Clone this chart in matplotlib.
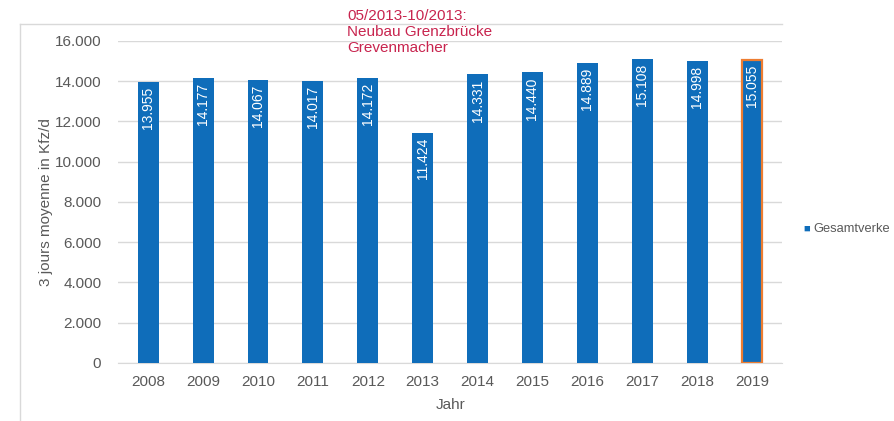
import matplotlib.pyplot as plt
from matplotlib.lines import Line2D

plt.rcParams['font.family'] = ['Liberation Sans', 'DejaVu Sans']

years = ['2008', '2009', '2010', '2011', '2012', '2013',
         '2014', '2015', '2016', '2017', '2018', '2019']
values = [13955, 14177, 14067, 14017, 14172, 11424,
          14331, 14440, 14889, 15108, 14998, 15055]
labels = ['13.955', '14.177', '14.067', '14.017', '14.172', '11.424',
          '14.331', '14.440', '14.889', '15.108', '14.998', '15.055']
yticks = [0, 2000, 4000, 6000, 8000, 10000, 12000, 14000, 16000]
ytick_labels = ['0', '2.000', '4.000', '6.000', '8.000', '10.000',
                '12.000', '14.000', '16.000']

blue = '#0F6DBA'
grey = '#595959'

fig = plt.figure(figsize=(8.94, 4.21), dpi=100)
ax = fig.add_axes([0.132, 0.138, 0.743, 0.765])

x = list(range(len(years)))
bars = ax.bar(x, values, width=0.38, color=blue, zorder=3)
bars[-1].set_edgecolor('#ED7D31')
bars[-1].set_linewidth(1.6)

for xi, v, lab in zip(x, values, labels):
    ax.text(xi, v - 250, lab, rotation=90, ha='center', va='top',
            color='white', fontsize=10, zorder=4)

ax.set_xlim(-0.55, 11.55)
ax.set_ylim(0, 16000)
ax.set_yticks(yticks)
ax.set_yticklabels(ytick_labels)
ax.set_xticks(x)
ax.set_xticklabels(years)
ax.tick_params(axis='y', length=0, colors=grey, labelsize=11, pad=12)
ax.tick_params(axis='x', length=0, colors=grey, labelsize=11, pad=9)
ax.grid(axis='y', color='#D9D9D9', linewidth=1, zorder=0)
for s in ['top', 'right', 'left']:
    ax.spines[s].set_visible(False)
ax.spines['bottom'].set_color('#D9D9D9')

ax.set_xlabel('Jahr', color=grey, fontsize=11, labelpad=6)
ax.set_ylabel('3 jours moyenne in Kfz/d', color=grey, fontsize=11)
ax.yaxis.set_label_coords(-0.098, 0.5)

# annotation for 2013
fig.text(347 / 894, 1 - 9 / 421,
         '05/2013-10/2013:\nNeubau Grenzbrücke\nGrevenmacher',
         color='#C8244E', fontsize=11, ha='left', va='top', linespacing=1.2)

# outer chart frame (top and left)
fig.add_artist(Line2D([20 / 894, 782 / 894], [1 - 24 / 421, 1 - 24 / 421],
                      transform=fig.transFigure, color='#D9D9D9', lw=1))
fig.add_artist(Line2D([20 / 894, 20 / 894], [0, 1 - 24 / 421],
                      transform=fig.transFigure, color='#D9D9D9', lw=1))

# legend (cut at the right edge in the original)
fig.text(803 / 894, 1 - 229 / 421, '■', color=blue, fontsize=8,
         ha='left', va='center')
fig.text(813 / 894, 1 - 229 / 421, 'Gesamtverke', color=grey,
         fontsize=9.3, ha='left', va='center')

fig.savefig('out.png', dpi=100)
